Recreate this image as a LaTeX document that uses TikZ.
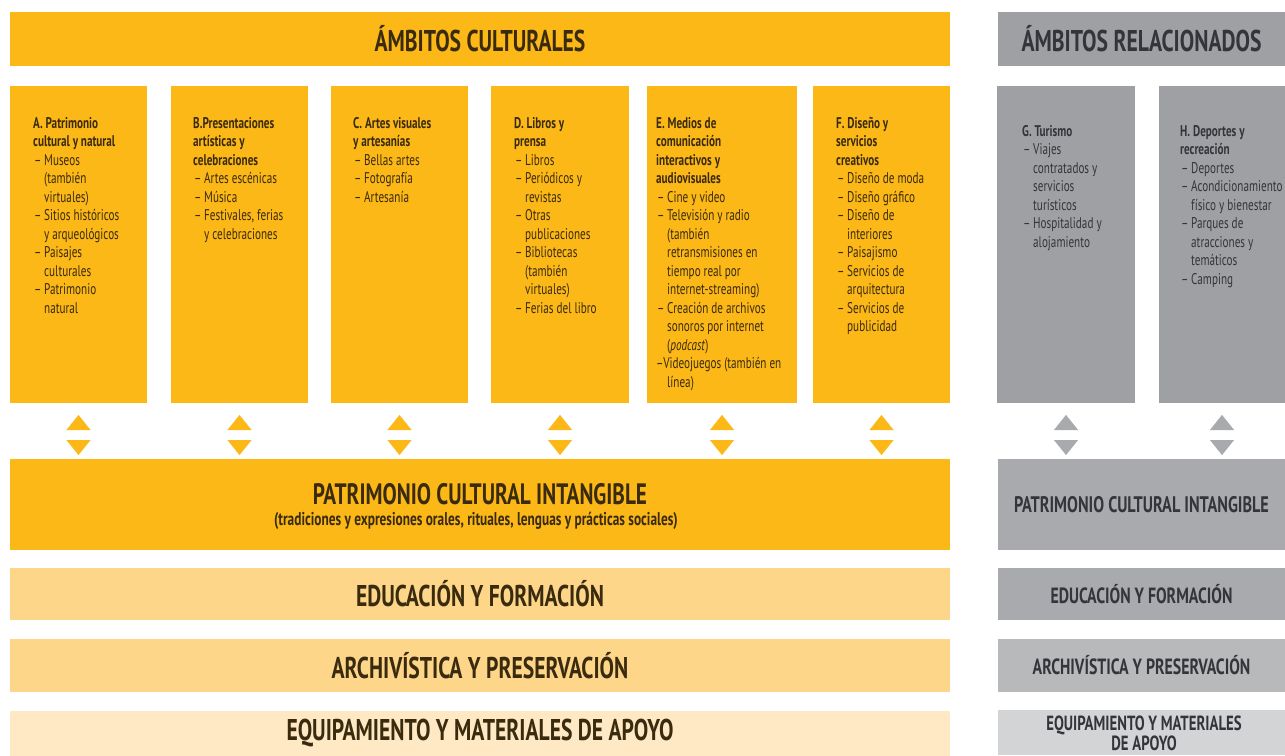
\documentclass[tikz,border=0pt]{standalone}
\usepackage{fontspec}
\setmainfont{PT Sans}[FakeStretch=0.72]
\usetikzlibrary{arrows.meta}

\definecolor{ambar}{HTML}{FBB817}
\definecolor{ambarmed}{HTML}{FDD68A}
\definecolor{ambarpal}{HTML}{FEE9C4}
\definecolor{grisA}{HTML}{9FA0A3}
\definecolor{grisB}{HTML}{A9AAAD}
\definecolor{grisC}{HTML}{B8B9BB}
\definecolor{grisD}{HTML}{D3D4D6}
\definecolor{tinta}{HTML}{3A2A0E}
\definecolor{tintag}{HTML}{34353A}

\newcommand{\itm}{\hspace*{1pt}\makebox[10pt][l]{–}}% dash of an item
\newcommand{\sig}{\hspace*{11pt}}% continued item line

\begin{document}
\begin{tikzpicture}[x=1pt, y=-1pt,
    caja/.style = {rectangle, inner sep=0pt, outer sep=0pt,% bars and columns
                   font=\bfseries\fontsize{30}{30}\selectfont, text=tinta, align=center},
    cajag/.style = {caja, text=tintag, font=\bfseries\fontsize{22}{22}\selectfont},
    col/.style  = {caja, fill=ambar, minimum width=#1, minimum height=317pt},
    colg/.style = {caja, fill=grisA, minimum width=#1, minimum height=317pt},
    txt/.style  = {anchor=north west, inner sep=0pt, align=left, text=tinta,% text of a column
                   font=\fontsize{15.5}{18.5}\selectfont},
    flecha/.style = {white, line width=0.1pt, shorten <=12pt, shorten >=4pt,
                     {Triangle[width=24pt,length=15pt,color=#1]}-{Triangle[width=24pt,length=15pt,color=#1]}},
                        ]
\useasboundingbox (0,0) rectangle (1285,755);

% headers
\node[caja, fill=ambar, minimum width=940pt, minimum height=54pt] (ambc) at (480,39) {ÁMBITOS CULTURALES};
\node[caja, fill=grisA, minimum width=287pt, minimum height=54pt, text=tintag] (ambr) at (1141.5,39) {ÁMBITOS RELACIONADOS};

% columns
\node[col=137pt] (A) at (78.5,244.5) {};
\node[col=137pt] (B) at (239.5,244.5) {};
\node[col=137pt] (C) at (399.5,244.5) {};
\node[col=138pt] (D) at (560,244.5) {};
\node[col=150pt] (E) at (722,244.5) {};
\node[col=137pt] (F) at (881.5,244.5) {};
\node[colg=138pt] (G) at (1066,244.5) {};
\node[colg=126pt] (H) at (1222,244.5) {};

\node[txt] (A-t) at ([shift={(23,31)}]A.north west) {%
\textbf{A. Patrimonio}\\ \textbf{cultural y natural}\\ \itm Museos\\ \sig (también\\
\sig virtuales)\\ \itm Sitios históricos\\ \sig y arqueológicos\\ \itm Paisajes\\
\sig culturales\\ \itm Patrimonio\\ \sig natural};
\node[txt] (B-t) at ([shift={(22,31)}]B.north west) {%
\textbf{B.Presentaciones}\\ \textbf{artísticas y}\\ \textbf{celebraciones}\\
\itm Artes escénicas\\ \itm Música\\ \itm Festivales, ferias\\ \sig y celebraciones};
\node[txt] (C-t) at ([shift={(22,31)}]C.north west) {%
\textbf{C. Artes visuales}\\ \textbf{y artesanías}\\ \itm Bellas artes\\
\itm Fotografía\\ \itm Artesanía};
\node[txt] (D-t) at ([shift={(23,31)}]D.north west) {%
\textbf{D. Libros y}\\ \textbf{prensa}\\ \itm Libros\\ \itm Periódicos y\\ \sig revistas\\
\itm Otras\\ \sig publicaciones\\ \itm Bibliotecas\\ \sig (también\\ \sig virtuales)\\
\itm Ferias del libro};
\node[txt] (E-t) at ([shift={(9,31)}]E.north west) {%
\textbf{E. Medios de}\\ \textbf{comunicación}\\ \textbf{interactivos y}\\ \textbf{audiovisuales}\\
\itm Cine y video\\ \itm Televisión y radio\\ \sig (también\\ \sig retransmisiones en\\
\sig tiempo real por\\ \sig internet-streaming)\\ \itm Creación de archivos\\
\sig sonoros por internet\\ \sig (\textit{podcast})\\ –Videojuegos (también en\\ \sig línea)};
\node[txt] (F-t) at ([shift={(23,31)}]F.north west) {%
\textbf{F. Diseño y}\\ \textbf{servicios}\\ \textbf{creativos}\\ \itm Diseño de moda\\
\itm Diseño gráfico\\ \itm Diseño de\\ \sig interiores\\ \itm Paisajismo\\
\itm Servicios de\\ \sig arquitectura\\ \itm Servicios de\\ \sig publicidad};
\node[txt, text=tintag] (G-t) at ([shift={(25,39)}]G.north west) {%
\textbf{G. Turismo}\\ \itm Viajes\\ \sig contratados y\\ \sig servicios\\
\sig turísticos\\ \itm Hospitalidad y\\ \sig alojamiento};
\node[txt, text=tintag] (H-t) at ([shift={(21,39)}]H.north west) {%
\textbf{H. Deportes y}\\ \textbf{recreación}\\ \itm Deportes\\ \itm Acondicionamiento\\
\sig físico y bienestar\\ \itm Parques de\\ \sig atracciones y\\ \sig temáticos\\ \itm Camping};

% intangible heritage
\node[caja, fill=ambar, minimum width=940pt, minimum height=91pt] (pci) at (480,504.5) {};
\node[cajag, fill=grisB, minimum width=287pt, minimum height=91pt,
      font=\bfseries\fontsize{22.5}{22.5}\selectfont] (pcig) at (1141.5,504.5) {PATRIMONIO CULTURAL INTANGIBLE};
\node[caja, font=\bfseries\fontsize{29.5}{29.5}\selectfont] (pci-t) at (480,494) {PATRIMONIO CULTURAL INTANGIBLE};
\node[caja, font=\bfseries\fontsize{18.5}{18.5}\selectfont] (pci-s) at (476,521)
     {(tradiciones y expresiones orales, rituales, lenguas y prácticas sociales)};

% arrows
\foreach \c in {A,...,F}
    \draw[flecha=ambar] (\c.south) -- (\c.south |- pci.north);
\foreach \c in {G,H}
    \draw[flecha=grisB] (\c.south) -- (\c.south |- pcig.north);

% lower bars
\node[caja, fill=ambarmed, minimum width=940pt, minimum height=52pt] (edu) at (480,594) {EDUCACIÓN Y FORMACIÓN};
\node[caja, fill=ambarmed, minimum width=940pt, minimum height=53pt] (arc) at (480,665.5) {ARCHIVÍSTICA Y PRESERVACIÓN};
\node[caja, fill=ambarpal, minimum width=940pt, minimum height=45pt] (equ) at (480,733.5) {EQUIPAMIENTO Y MATERIALES DE APOYO};
\node[cajag, fill=grisB, minimum width=287pt, minimum height=52pt] (edug) at (1141.5,594) {EDUCACIÓN Y FORMACIÓN};
\node[cajag, fill=grisC, minimum width=287pt, minimum height=53pt] (arcg) at (1141.5,665.5) {ARCHIVÍSTICA Y PRESERVACIÓN};
\node[caja, fill=grisD, minimum width=287pt, minimum height=45pt] (equg) at (1141.5,732.5) {};
\node[cajag, font=\bfseries\fontsize{20.5}{19}\selectfont] (equg-t) at (1144,733.5) {EQUIPAMIENTO Y MATERIALES\\ DE APOYO};
\end{tikzpicture}
\end{document}
